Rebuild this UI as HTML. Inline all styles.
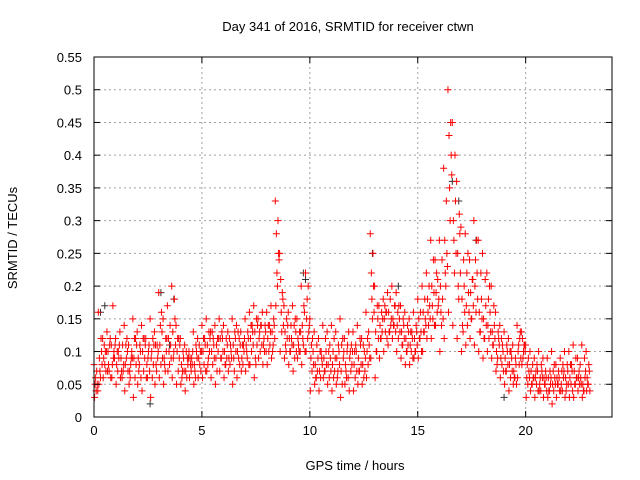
<!DOCTYPE html>
<html><head><meta charset="utf-8"><style>
body{margin:0;background:#fff;}
svg{display:block;font-family:"Liberation Sans",sans-serif;}
</style></head><body>
<svg id="chart" width="640" height="480" xmlns="http://www.w3.org/2000/svg">
<text x="348" y="31" font-size="13" text-anchor="middle">Day 341 of 2016, SRMTID for receiver ctwn</text>
<text transform="translate(17,238) rotate(-90)" font-size="13" text-anchor="middle">SRMTID / TECUs</text>
<text x="355" y="470" font-size="13" text-anchor="middle">GPS time / hours</text>
<g id="grid"></g><g id="marks"></g><g id="axes"></g>
</svg>
<script>
const xTicks=[0,5,10,15,20];
const yTicks=[0,0.05,0.1,0.15,0.2,0.25,0.3,0.35,0.4,0.45,0.5,0.55];
const yLabels=["0","0.05","0.1","0.15","0.2","0.25","0.3","0.35","0.4","0.45","0.5","0.55"];
const step=0.2;
const s1=[.08,.16,.12,.13,.11,.12,.13,.14,.11,.15,.13,.14,.12,.15,.13,.19,.15,.17,.20,.14,.12,.11,.10,.13,.12,.14,.15,.13,.14,.15,.14,.13,.15,.14,.13,.15,.16,.17,.15,.16,.16,.17,.33,.25,.17,.16,.17,.15,.20,.22,.15,.13,.12,.14,.13,.14,.13,.15,.12,.13,.13,.14,.12,.16,.28,.20,.17,.18,.19,.20,.19,.17,.16,.15,.16,.18,.20,.22,.27,.24,.27,.38,.50,.45,.36,.29,.28,.24,.30,.27,.25,.22,.20,.16,.14,.13,.12,.11,.14,.13,.11,.10,.09,.10,.09,.09,.10,.08,.09,.10,.10,.11,.09,.11,.10];
const s2=[.03,.05,.06,.07,.06,.05,.06,.04,.05,.03,.05,.04,.06,.03,.05,.06,.05,.07,.06,.05,.05,.04,.06,.05,.06,.06,.07,.06,.05,.07,.06,.07,.05,.06,.07,.07,.08,.06,.09,.08,.08,.09,.17,.10,.09,.08,.07,.09,.08,.10,.04,.05,.04,.06,.05,.04,.05,.03,.05,.04,.04,.05,.05,.06,.09,.06,.09,.10,.11,.12,.10,.09,.08,.08,.09,.09,.10,.12,.12,.14,.10,.12,.16,.14,.12,.10,.11,.12,.11,.10,.09,.10,.09,.07,.06,.05,.04,.05,.06,.08,.03,.04,.03,.04,.03,.03,.02,.03,.04,.03,.03,.03,.04,.03,.04];
const s3=[.05,.09,.09,.10,.08,.08,.09,.08,.07,.09,.09,.10,.08,.09,.11,.11,.09,.12,.13,.10,.08,.07,.09,.08,.09,.10,.11,.10,.09,.12,.10,.09,.11,.10,.09,.11,.12,.13,.12,.11,.12,.13,.28,.21,.13,.12,.11,.12,.14,.15,.09,.08,.07,.09,.08,.08,.09,.07,.08,.09,.08,.09,.08,.10,.22,.13,.14,.15,.16,.15,.14,.13,.12,.11,.12,.15,.16,.18,.20,.19,.20,.27,.43,.30,.25,.18,.17,.19,.20,.16,.15,.14,.13,.10,.09,.09,.08,.07,.10,.12,.06,.07,.06,.05,.06,.06,.05,.06,.05,.06,.06,.07,.06,.05,.06];
const s4=[.06,.07,.11,.08,.17,.10,.07,.11,.06,.12,.07,.12,.06,.10,.08,.14,.08,.10,.09,.12,.06,.10,.08,.07,.11,.12,.08,.13,.11,.09,.08,.12,.09,.13,.11,.10,.14,.09,.13,.12,.14,.10,.22,.16,.11,.10,.14,.11,.12,.18,.11,.06,.10,.07,.10,.10,.06,.11,.07,.10,.10,.07,.11,.12,.18,.10,.12,.17,.13,.14,.16,.11,.10,.13,.10,.12,.13,.16,.17,.22,.16,.22,.35,.27,.20,.14,.22,.15,.24,.13,.12,.18,.11,.08,.12,.07,.10,.06,.11,.09,.08,.05,.07,.06,.05,.04,.07,.05,.07,.04,.08,.05,.07,.04,.05];
const s5=[.04,.06,.08,.07,.09,.07,.06,.09,.08,.06,.08,.07,.09,.06,.07,.08,.07,.08,.10,.07,.07,.06,.07,.06,.08,.08,.09,.08,.07,.09,.08,.08,.07,.09,.08,.09,.10,.08,.10,.10,.10,.11,.20,.13,.10,.10,.09,.10,.11,.12,.07,.06,.06,.07,.06,.06,.07,.05,.06,.07,.06,.07,.06,.08,.15,.10,.12,.13,.13,.14,.12,.11,.10,.10,.10,.12,.13,.14,.15,.16,.14,.20,.30,.22,.18,.13,.14,.15,.16,.13,.12,.12,.11,.09,.08,.07,.06,.06,.08,.10,.05,.05,.05,.04,.05,.04,.04,.05,.04,.05,.05,.05,.05,.04,.05];
const s6=[.07,.12,.10,.11,.10,.10,.11,.12,.09,.12,.11,.12,.10,.12,.11,.16,.12,.14,.18,.12,.10,.09,.09,.11,.10,.12,.13,.12,.12,.13,.12,.11,.13,.12,.11,.13,.14,.15,.14,.14,.14,.15,.30,.19,.15,.14,.15,.13,.17,.20,.12,.11,.10,.12,.11,.12,.11,.12,.10,.11,.11,.12,.10,.13,.25,.17,.16,.16,.18,.17,.17,.15,.14,.13,.14,.16,.18,.20,.24,.21,.24,.33,.45,.40,.31,.24,.25,.21,.27,.22,.21,.20,.17,.13,.11,.11,.10,.09,.12,.11,.09,.08,.08,.08,.07,.07,.08,.07,.08,.08,.08,.09,.08,.09,.08];
const s7=[.05,.10,.07,.12,.09,.09,.07,.10,.10,.08,.10,.09,.11,.08,.09,.13,.10,.11,.15,.09,.09,.08,.08,.10,.07,.11,.10,.11,.10,.12,.09,.10,.12,.08,.10,.12,.13,.11,.14,.13,.11,.14,.25,.18,.12,.12,.13,.10,.16,.13,.10,.07,.09,.10,.09,.07,.10,.09,.11,.08,.10,.11,.07,.11,.20,.15,.13,.16,.14,.17,.15,.14,.11,.12,.13,.13,.15,.17,.19,.17,.18,.25,.40,.33,.28,.20,.19,.21,.22,.18,.17,.16,.14,.12,.10,.10,.09,.08,.13,.11,.07,.06,.07,.07,.06,.05,.06,.06,.06,.07,.07,.06,.06,.06,.07];
const s8=[.04,.08,.10,.06,.11,.11,.08,.07,.09,.11,.06,.11,.07,.11,.10,.09,.12,.09,.11,.11,.07,.09,.10,.09,.10,.07,.12,.09,.12,.10,.11,.09,.10,.11,.12,.08,.11,.14,.11,.10,.13,.12,.24,.14,.14,.11,.10,.13,.10,.14,.08,.09,.08,.08,.07,.09,.08,.10,.06,.10,.07,.08,.09,.09,.16,.12,.15,.12,.15,.13,.13,.12,.13,.09,.11,.10,.14,.15,.14,.18,.15,.23,.37,.25,.22,.16,.16,.17,.18,.15,.14,.13,.12,.11,.07,.08,.07,.05,.09,.10,.06,.06,.04,.06,.04,.06,.05,.04,.07,.05,.04,.06,.05,.07,.04];
const darkT=[0.3,0.5,3.1,3.7,9.7,9.8,12.9,14.1,16.6,16.9,17.7,19.0,3.5,2.6];
const darkV=[0.16,0.17,0.19,0.18,0.22,0.21,0.25,0.20,0.36,0.33,0.27,0.03,0.11,0.02];
const X0=94,X1=612,Y0=417,Y1=57,XMAX=24,YMAX=0.55;
const xs=v=>X0+(X1-X0)*v/XMAX;
const ys=v=>Y0-(Y0-Y1)*v/YMAX;
const NS="http://www.w3.org/2000/svg";
function mk(tag,attrs,parent){const e=document.createElementNS(NS,tag);for(const k in attrs)e.setAttribute(k,attrs[k]);parent.appendChild(e);return e;}
const grid=document.getElementById('grid'),marks=document.getElementById('marks'),axes=document.getElementById('axes');
xTicks.forEach(t=>{
 const x=xs(t);
 if(t>0){const g=mk('line',{x1:x,x2:x,y1:Y1,y2:Y0,stroke:'#a0a0a0','stroke-dasharray':'2,3'},grid);
 
 }
 mk('line',{x1:x,x2:x,y1:Y0,y2:Y0-6,stroke:'#000'},axes);
 mk('line',{x1:x,x2:x,y1:Y1,y2:Y1+6,stroke:'#000'},axes);
 const l=mk('text',{x:x,y:Y0+18,'font-size':13,'text-anchor':'middle'},axes);
 l.textContent=t;
 
 
});
yTicks.forEach((t,i)=>{
 const y=ys(t);
 if(i>0&&i<yTicks.length-1){const g=mk('line',{x1:X0,x2:X1,y1:y,y2:y,stroke:'#a0a0a0','stroke-dasharray':'2,3'},grid);
 
 }
 mk('line',{x1:X0,x2:X0+6,y1:y,y2:y,stroke:'#000'},axes);
 mk('line',{x1:X1,x2:X1-6,y1:y,y2:y,stroke:'#000'},axes);
 const l=mk('text',{x:X0-12,y:y+5,'font-size':13,'text-anchor':'end'},axes);
 l.textContent=yLabels[i];
 
 
});
const fr=mk('rect',{x:X0,y:Y1,width:X1-X0,height:Y0-Y1,fill:'none',stroke:'#000'},axes);


function plus(t,v,col){
 const x=xs(t),y=ys(v);
 const p=mk('path',{d:`M${x-3.5},${y}h7M${x},${y-3.5}v7`,stroke:col,'stroke-width':1,fill:'none'},marks);
 
 
}
darkT.forEach((t,i)=>plus(t,darkV[i],'#333'));
[s1,s2,s3,s4,s5,s6,s7,s8].forEach((s,k)=>s.forEach((v,i)=>plus(i*step+k*0.025,v,'#f00')));
</script>
</body></html>
